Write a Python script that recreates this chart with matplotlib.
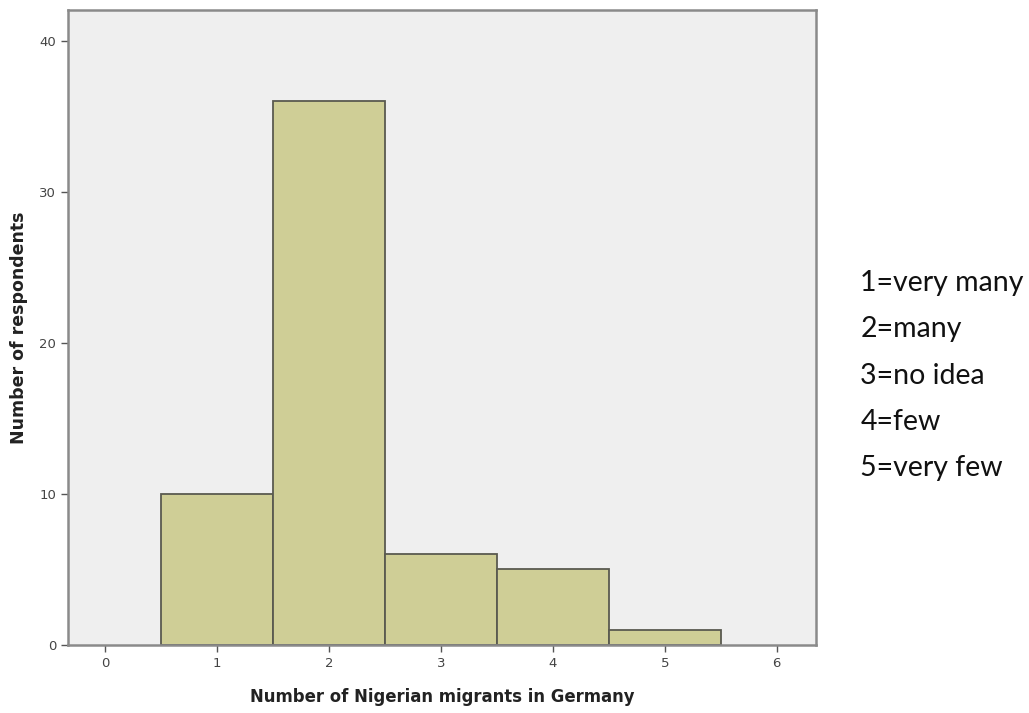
import matplotlib
matplotlib.use("Agg")
import matplotlib.pyplot as plt

# vrijednosti ocitane sa slike
kategorije = [1, 2, 3, 4, 5]
ispitanici = [10, 36, 6, 5, 1]
x_ticks = [0, 1, 2, 3, 4, 5, 6]
y_ticks = [0, 10, 20, 30, 40]
legenda = ["1=very many", "2=many", "3=no idea", "4=few", "5=very few"]

fig = plt.figure(figsize=(10.29, 7.13), dpi=100)
ax = fig.add_axes([0.0661, 0.0954, 0.7269, 0.8906])
ax.set_facecolor("#efefef")

ax.bar(kategorije, ispitanici, width=1.0, color="#cfce96", edgecolor="#5a5a50", linewidth=1.3)

ax.set_xlim(-0.33, 6.35)
ax.set_ylim(0, 42.05)
ax.set_xticks(x_ticks)
ax.set_yticks(y_ticks)
ax.tick_params(axis="both", direction="out", length=5, width=1, color="#555555",
               labelsize=9.5, labelcolor="#444444")
for s in ax.spines.values():
    s.set_color("#8a8a8a")
    s.set_linewidth(1.8)

ax.set_xlabel("Number of Nigerian migrants in Germany", fontsize=11.9, fontweight="bold",
              family="DejaVu Sans", color="#222222", labelpad=13)
ax.set_ylabel("Number of respondents", fontsize=12.5, fontweight="bold",
              family="DejaVu Sans", color="#222222", labelpad=8)

y0 = 0.603
for i, t in enumerate(legenda):
    fig.text(0.836, y0 - i * 0.065, t, fontsize=20.5, family="Lato", color="#111111", va="center")

fig.savefig("out.png", dpi=100)
